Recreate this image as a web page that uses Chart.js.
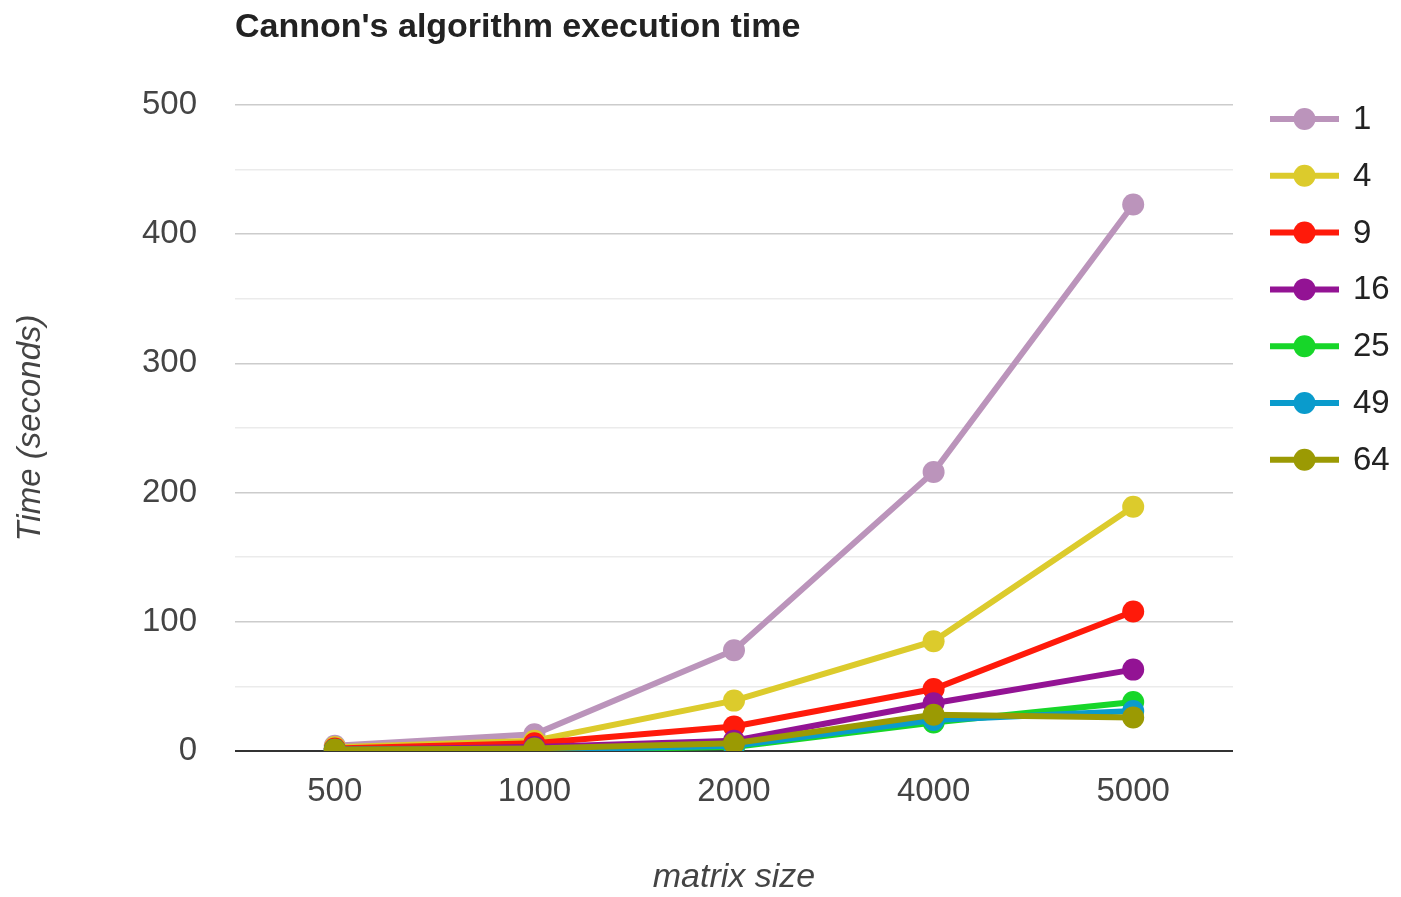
<!DOCTYPE html>
<html>
<head>
<meta charset="utf-8">
<script src="https://cdn.jsdelivr.net/npm/chart.js@4/dist/chart.umd.min.js"></script>
<style>
html,body{margin:0;padding:0;background:#fff;}
#wrap{width:1401px;height:897px;position:relative;}
</style>
</head>
<body>
<div id="wrap"><canvas id="c" width="1401" height="897"></canvas></div>
<script>
const chartTitle = "Cannon's algorithm execution time";
const xTitle = "matrix size";
const yTitle = "Time (seconds)";
const categories = ["500", "1000", "2000", "4000", "5000"];
const seriesNames = ["1", "4", "9", "16", "25", "49", "64"];
const s1  = [4, 13, 78, 216, 423];
const s4  = [3, 8, 39, 85, 189];
const s9  = [2, 6, 19, 48, 108];
const s16 = [1, 3, 8, 37, 63];
const s25 = [1, 1, 3, 22, 38];
const s49 = [1, 1, 4, 24, 31];
const s64 = [1, 2, 6, 28, 26];
const seriesValues = [s1, s4, s9, s16, s25, s49, s64];
const colors = ["#bb94bb", "#dccb2c", "#ff1a0a", "#931394", "#17d629", "#0a9bcc", "#9b9a03"];

const FONT = "'Liberation Sans', Arial, sans-serif";

const datasets = seriesNames.map((n, i) => ({
  label: n,
  data: seriesValues[i],
  borderColor: colors[i],
  backgroundColor: colors[i],
  pointBackgroundColor: colors[i],
  pointBorderColor: colors[i],
  borderWidth: 6,
  pointRadius: 11,
  pointBorderWidth: 0,
  pointHoverRadius: 11,
  tension: 0,
  order: seriesNames.length - i
}));

const titlePlugin = {
  id: 'customTitle',
  afterDraw(chart) {
    const ctx = chart.ctx;
    ctx.save();
    ctx.font = "bold 34px " + FONT;
    ctx.fillStyle = "#222";
    ctx.textBaseline = "middle";
    ctx.textAlign = "left";
    ctx.fillText(chartTitle, chart.chartArea.left, 28);
    ctx.restore();
  }
};

const legendPlugin = {
  id: 'customLegend',
  afterDraw(chart) {
    const ctx = chart.ctx;
    ctx.save();
    chart.data.datasets.forEach((ds, i) => {
      const y = 119 + i * 56.8;
      ctx.strokeStyle = ds.borderColor;
      ctx.lineWidth = 6;
      ctx.beginPath();
      ctx.moveTo(1270, y);
      ctx.lineTo(1339, y);
      ctx.stroke();
      ctx.fillStyle = ds.borderColor;
      ctx.beginPath();
      ctx.arc(1304.5, y, 11, 0, Math.PI * 2);
      ctx.fill();
      ctx.fillStyle = "#222";
      ctx.font = "33px " + FONT;
      ctx.textBaseline = "middle";
      ctx.textAlign = "left";
      ctx.fillText(ds.label, 1353, y + 1);
    });
    ctx.restore();
  }
};

new Chart(document.getElementById('c'), {
  type: 'line',
  data: { labels: categories, datasets: datasets },
  options: {
    responsive: false,
    animation: false,
    devicePixelRatio: 1,
    layout: { padding: { left: 0, right: 168, top: 105, bottom: 0 } },
    plugins: {
      legend: { display: false },
      title: { display: false },
      tooltip: { enabled: false }
    },
    scales: {
      x: {
        offset: true,
        afterFit(scale) { scale.height = 146; },
        grid: { display: false, drawTicks: false },
        border: { display: false },
        ticks: { color: "#444", font: { family: FONT, size: 33 }, padding: 21, maxRotation: 0 },
        title: { display: true, text: xTitle, color: "#444", font: { family: FONT, size: 34, style: 'italic', lineHeight: 1.15 }, padding: { top: 0, bottom: 0 } }
      },
      y: {
        min: 0,
        max: 500,
        afterFit(scale) { scale.width = 235; },
        ticks: {
          stepSize: 50,
          color: "#444",
          font: { family: FONT, size: 33 },
          padding: 38,
          callback: (v) => (v % 100 === 0 ? String(v) : '')
        },
        grid: {
          drawTicks: false,
          lineWidth: (c) => (c.tick && c.tick.value === 0 ? 2 : 1.5),
          color: (c) => {
            if (!c.tick) return '#ccc';
            if (c.tick.value === 0) return '#333';
            return c.tick.value % 100 === 0 ? '#cccccc' : '#ebebeb';
          }
        },
        border: { display: false },
        title: { display: true, text: yTitle, color: "#444", font: { family: FONT, size: 33, style: 'italic' }, padding: { top: 11, bottom: 0 } }
      }
    }
  },
  plugins: [titlePlugin, legendPlugin]
});
</script>
</body>
</html>
